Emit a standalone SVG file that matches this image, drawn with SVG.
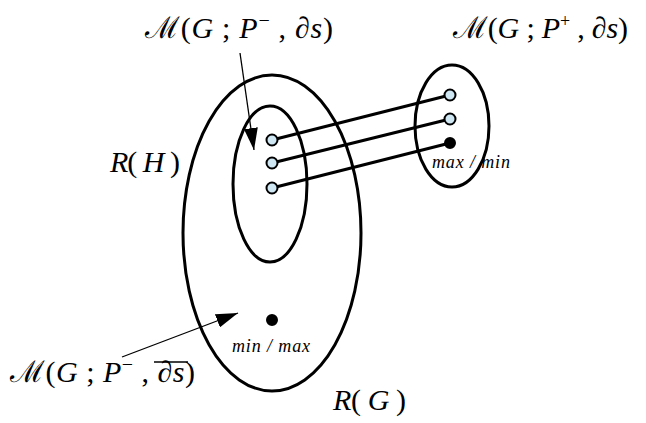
<svg xmlns="http://www.w3.org/2000/svg" width="646" height="423" viewBox="0 0 646 423">
<style>
.e{fill:none;stroke:#000;stroke-width:3}
.c{stroke:#000;stroke-width:3;fill:none}
.d{fill:#cfe6f3;stroke:#000;stroke-width:2}
.b{fill:#000;stroke:#000;stroke-width:2}
.t{font-family:"Liberation Serif","DejaVu Serif",serif;font-size:30px;fill:#000}
.i{font-style:italic}
.s{font-family:"Liberation Serif","DejaVu Serif",serif;font-size:18px;font-style:italic;fill:#000}
.a{stroke:#000;stroke-width:1.3;fill:none}
</style>
<defs>
<marker id="ah2" viewBox="0 0 22 14" refX="22" refY="7" markerWidth="22" markerHeight="14" orient="auto" markerUnits="userSpaceOnUse">
<path d="M0,0 L22,7 L0,14 z" fill="#000"/>
</marker>
</defs>
<g id="RG"><ellipse class="e" cx="272" cy="233" rx="89" ry="158"/></g>
<g id="RH"><ellipse class="e" cx="270" cy="184" rx="37" ry="78"/></g>
<g id="Mplus"><ellipse class="e" cx="452" cy="126" rx="37" ry="61"/></g>
<g id="connectors">
<line class="c" x1="272" y1="140" x2="450" y2="95"/>
<line class="c" x1="272" y1="163" x2="450" y2="119"/>
<line class="c" x1="272" y1="188" x2="450" y2="143"/>
<line class="a" x1="240" y1="53" x2="254" y2="150" marker-end="url(#ah2)"/>
<line class="a" x1="122" y1="357" x2="238" y2="313" marker-end="url(#ah2)"/>
</g>
<g id="dots">
<circle class="d" cx="272" cy="140" r="5.5"/>
<circle class="d" cx="272" cy="163" r="5.5"/>
<circle class="d" cx="272" cy="188" r="5.5"/>
<circle class="d" cx="450" cy="95" r="5.5"/>
<circle class="d" cx="450" cy="119" r="5.5"/>
<circle class="b" cx="450" cy="143" r="5"/>
<circle class="b" cx="272" cy="320" r="5"/>
</g>
<g id="labels">
<text class="t" x="145" y="38" textLength="188" lengthAdjust="spacing">ℳ(<tspan class="i">G</tspan> ; <tspan class="i">P</tspan><tspan font-size="20" dy="-11">−</tspan><tspan dy="11"> , ∂</tspan><tspan class="i">s</tspan>)</text>
<text class="t" x="453" y="38" textLength="175" lengthAdjust="spacing">ℳ(<tspan class="i">G</tspan> ; <tspan class="i">P</tspan><tspan font-size="18" dy="-11">+</tspan><tspan dy="11"> , ∂</tspan><tspan class="i">s</tspan>)</text>
<text class="t" x="10" y="382" textLength="185" lengthAdjust="spacing">ℳ(<tspan class="i">G</tspan> ; <tspan class="i">P</tspan><tspan font-size="20" dy="-11">−</tspan><tspan dy="11"> , ∂</tspan><tspan class="i">s</tspan>)</text>
<line x1="154" y1="362" x2="188" y2="362" stroke="#000" stroke-width="1.5"/>
<text class="t" x="110" y="172" textLength="70" lengthAdjust="spacing"><tspan class="i">R</tspan>( <tspan class="i">H</tspan> )</text>
<text class="t" x="333" y="410" textLength="73" lengthAdjust="spacing"><tspan class="i">R</tspan>( <tspan class="i">G</tspan> )</text>
<text class="s" x="432" y="168" textLength="78" lengthAdjust="spacing">max / min</text>
<text class="s" x="232" y="352" textLength="78" lengthAdjust="spacing">min / max</text>
</g>
</svg>
